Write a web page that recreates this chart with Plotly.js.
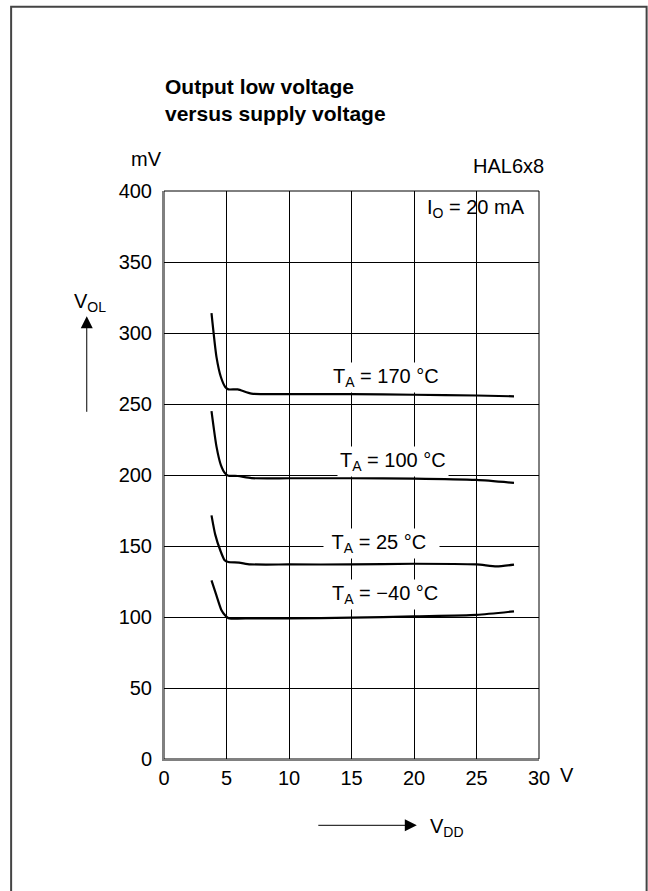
<!DOCTYPE html>
<html>
<head>
<meta charset="utf-8">
<script src="https://cdn.plot.ly/plotly-3.0.1.min.js"></script>
<style>html,body{margin:0;padding:0;background:#fff;}#chart{width:648px;height:891px;}</style>
</head>
<body>
<div id="chart"></div>
<script>
// Data (VDD in V, VOL in mV)
var vdd170 = [3.8, 4.2, 4.55, 4.9, 5.15, 5.9, 7.0, 10, 15, 20, 25, 28];
var vol170 = [314, 283, 269, 262, 260.3, 260.3, 257.3, 257, 257, 256.5, 256, 255.4];

var vdd100 = [3.8, 4.2, 4.55, 4.9, 5.15, 5.9, 7.0, 10, 15, 20, 25, 28];
var vol100 = [245, 220, 207, 201, 199.5, 199.3, 197.8, 197.7, 197.7, 197.5, 196.5, 194.4];

var vdd25 = [3.8, 4.1, 4.5, 4.85, 5.15, 6.0, 6.9, 10, 15, 20, 25, 26.6, 28];
var vol25 = [171.6, 158, 147, 140, 138.7, 138.3, 137.1, 137, 137, 137.5, 137, 135.7, 136.9];

var vddm40 = [3.8, 4.2, 4.6, 4.9, 5.15, 7, 10, 15, 20, 25, 28];
var volm40 = [125.8, 115, 104.7, 101, 99.2, 99, 99, 99.5, 100.5, 101.5, 104];

var xTicks = [0, 5, 10, 15, 20, 25, 30];
var yTicks = [0, 50, 100, 150, 200, 250, 300, 350, 400];

var curveLabels = ['T<sub>A</sub> = 170 °C', 'T<sub>A</sub> = 100 °C', '&nbsp;T<sub>A</sub> = 25 °C&nbsp;&nbsp;', 'T<sub>A</sub> = −40 °C'];
var labelX = [13.3, 13.8, 12.75, 13.2];
var labelY = [269, 209.5, 151.5, 116];

var FONT = 'Liberation Sans, Arial, sans-serif';
var W = 648, H = 891;
var L = 164, R = 539.3, T = 190.7, B = 758.7;
function px(x) { return (x - L) / (R - L); }
function py(y) { return (B - y) / (B - T); }

var lineStyle = {color: '#000', width: 2.2, shape: 'spline', smoothing: 0.6};
var traces = [
  {x: vdd170, y: vol170},
  {x: vdd100, y: vol100},
  {x: vdd25, y: vol25},
  {x: vddm40, y: volm40}
].map(function (t) {
  return {x: t.x, y: t.y, type: 'scatter', mode: 'lines', line: lineStyle, hoverinfo: 'skip', showlegend: false};
});

var annotations = [];
curveLabels.forEach(function (txt, i) {
  annotations.push({x: labelX[i], y: labelY[i], xref: 'x', yref: 'y', text: txt, showarrow: false,
    xanchor: 'left', yanchor: 'middle', bgcolor: '#fff', borderpad: 2,
    font: {family: FONT, size: 20, color: '#000'}});
});
annotations.push(
  {x: px(425), y: py(208), xref: 'paper', yref: 'paper', text: 'I<sub>O</sub> = 20 mA', showarrow: false,
    xanchor: 'left', yanchor: 'middle', font: {family: FONT, size: 20, color: '#000'}},
  {x: px(546), y: py(166), xref: 'paper', yref: 'paper', text: 'HAL6x8', showarrow: false,
    xanchor: 'right', yanchor: 'middle', font: {family: FONT, size: 20, color: '#000'}},
  {x: px(146), y: py(159), xref: 'paper', yref: 'paper', text: 'mV', showarrow: false,
    xanchor: 'center', yanchor: 'middle', font: {family: FONT, size: 20, color: '#000'}},
  {x: px(567), y: py(775), xref: 'paper', yref: 'paper', text: 'V', showarrow: false,
    xanchor: 'center', yanchor: 'middle', font: {family: FONT, size: 20, color: '#000'}},
  {x: px(72), y: py(302), xref: 'paper', yref: 'paper', text: 'V<sub>OL</sub>', showarrow: false,
    xanchor: 'left', yanchor: 'middle', font: {family: FONT, size: 20, color: '#000'}},
  {x: px(428), y: py(827), xref: 'paper', yref: 'paper', text: 'V<sub>DD</sub>', showarrow: false,
    xanchor: 'left', yanchor: 'middle', font: {family: FONT, size: 20, color: '#000'}},
  // arrows
  {x: px(86.7), y: py(316), xref: 'paper', yref: 'paper', text: '', showarrow: true,
    ax: 0, ay: 97, arrowhead: 2, arrowsize: 2.4, arrowwidth: 1, arrowcolor: '#000', standoff: 0},
  {x: px(417), y: py(825), xref: 'paper', yref: 'paper', text: '', showarrow: true,
    ax: -100, ay: 0, arrowhead: 2, arrowsize: 2.4, arrowwidth: 1, arrowcolor: '#000', standoff: 0}
);

var layout = {
  width: W, height: H,
  paper_bgcolor: '#fff', plot_bgcolor: '#fff',
  margin: {l: L, r: W - R, t: T, b: H - B, pad: 0},
  showlegend: false,
  title: {text: '<b>Output low voltage<br>versus supply voltage</b>', x: 165 / W, xanchor: 'left',
    xref: 'container', y: 1 - 94 / H, yanchor: 'top', yref: 'container',
    font: {family: FONT, size: 21, color: '#000'}},
  xaxis: {range: [0, 30], tickvals: xTicks, ticktext: xTicks.map(String), showgrid: true,
    gridcolor: '#000', gridwidth: 1, zeroline: false, showline: true, linecolor: '#808080', linewidth: 2,
    ticks: '', ticklabelstandoff: 0, tickfont: {family: FONT, size: 20, color: '#000'}, fixedrange: true},
  yaxis: {range: [0, 400], tickvals: yTicks, ticktext: yTicks.map(String), showgrid: true,
    gridcolor: '#000', gridwidth: 1, zeroline: false, showline: true, linecolor: '#808080', linewidth: 2,
    ticks: '', ticklabelstandoff: 6, tickfont: {family: FONT, size: 20, color: '#000'}, fixedrange: true},
  shapes: [
    {type: 'rect', xref: 'paper', yref: 'paper', x0: 0, x1: 1, y0: 0, y1: 1,
      line: {color: '#000', width: 1}, layer: 'below'},
    {type: 'path', xref: 'paper', yref: 'paper',
      path: 'M ' + px(11) + ' ' + py(900) + ' L ' + px(11) + ' ' + py(6.5) + ' L ' + px(647) + ' ' + py(6.5) + ' L ' + px(647) + ' ' + py(900),
      line: {color: '#444', width: 2}}
  ],
  annotations: annotations
};

Plotly.newPlot('chart', traces, layout, {staticPlot: true, displayModeBar: false});
</script>
</body>
</html>
